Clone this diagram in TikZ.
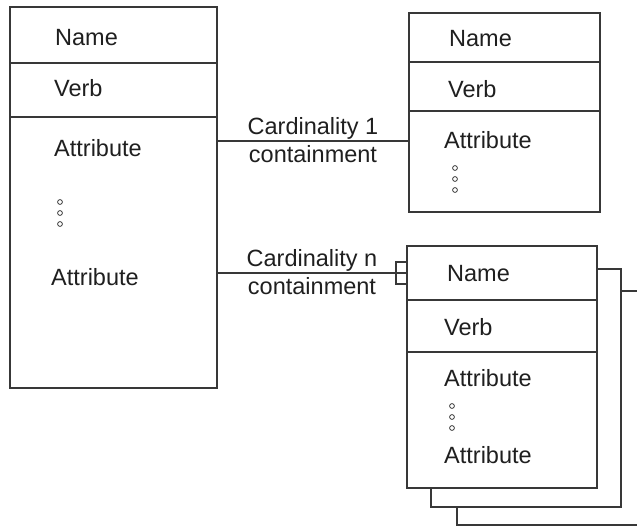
\documentclass[tikz,border=0pt]{standalone}
\usepackage{fontspec}
\setmainfont{Liberation Sans}
\usetikzlibrary{positioning}

\definecolor{linegray}{gray}{0.22}
\definecolor{textgray}{gray}{0.12}

% three small circles stacked downwards from (x,y)
\newcommand{\dotcol}[2]{%
  \foreach \d in {0,11,22}
    \draw[linegray, line width=0.8pt] (#1,#2+\d) circle[radius=2.4pt];}

\begin{document}
\begin{tikzpicture}[x=1pt, y=-1pt,
    cell/.style = {draw=linegray, line width=1.3pt, rectangle, fill=white,
                   anchor=north west, inner sep=0pt, outer sep=0pt},
    txt/.style  = {font=\fontsize{23.5}{28}\selectfont, text=textgray,
                   anchor=west, inner sep=0pt},
    conn/.style = {draw=linegray, line width=1.3pt},
    note/.style = {font=\fontsize{23.5}{28}\selectfont, text=textgray},
    crow/.style = {draw=linegray, line width=1.3pt, minimum width=11pt,
                   minimum height=22pt, inner sep=0pt, outer sep=0pt}
  ]
    \useasboundingbox (0,0) rectangle (637,526);
    \clip (0,0) rectangle (637,526);

    % left entity
    \node[cell, minimum width=207pt, minimum height=56pt]  (lname) at (10,7) {};
    \node[cell, minimum width=207pt, minimum height=54pt]  (lverb) at (lname.south west) {};
    \node[cell, minimum width=207pt, minimum height=271pt] (lattr) at (lverb.south west) {};
    \node[txt] (lnamet) at (55,38)  {Name};
    \node[txt] (lverbt) at (54,88)  {Verb};
    \node[txt] (lattr1) at (54,148) {Attribute};
    \node[txt] (lattr2) at (51,277) {Attribute};
    \dotcol{60}{202}

    % top right entity
    \node[cell, minimum width=191pt, minimum height=49pt]  (tname) at (409,13) {};
    \node[cell, minimum width=191pt, minimum height=49pt]  (tverb) at (tname.south west) {};
    \node[cell, minimum width=191pt, minimum height=101pt] (tattr) at (tverb.south west) {};
    \node[txt] (tnamet) at (449,39)  {Name};
    \node[txt] (tverbt) at (448,89)  {Verb};
    \node[txt] (tattr1) at (444,140) {Attribute};
    \dotcol{455}{168}

    % stacked entities, back to front
    \node[cell, minimum width=190pt, minimum height=234pt] (fback) at (457,291) {};
    \node[cell, minimum width=190pt, minimum height=238pt] (fmid)  at (431,269) {};
    \node[cell, minimum width=190pt, minimum height=54pt]  (fname) at (407,246) {};
    \node[cell, minimum width=190pt, minimum height=52pt]  (fverb) at (fname.south west) {};
    \node[cell, minimum width=190pt, minimum height=136pt] (fattr) at (fverb.south west) {};
    \node[txt] (fnamet) at (447,274) {Name};
    \node[txt] (fverbt) at (444,327) {Verb};
    \node[txt] (fattr1) at (444,378) {Attribute};
    \node[txt] (fattr2) at (444,455) {Attribute};
    \dotcol{452}{406}

    % containment connectors
    \coordinate (c1) at (0,141);
    \draw[conn] (lattr.east |- c1)
        -- node[note, above, inner sep=1pt] (card1) {Cardinality 1}
           node[note, below, inner sep=4pt] (cont1) {containment}
           (tattr.west |- c1);

    \node[crow, anchor=east] (many) at (fname.west) {};
    \draw[conn] (lattr.east |- fname.west)
        -- node[note, above, inner sep=1pt] (cardn) {Cardinality n}
           node[note, below, inner sep=4pt] (contn) {containment}
           (fname.west);
  \end{tikzpicture}
\end{document}
